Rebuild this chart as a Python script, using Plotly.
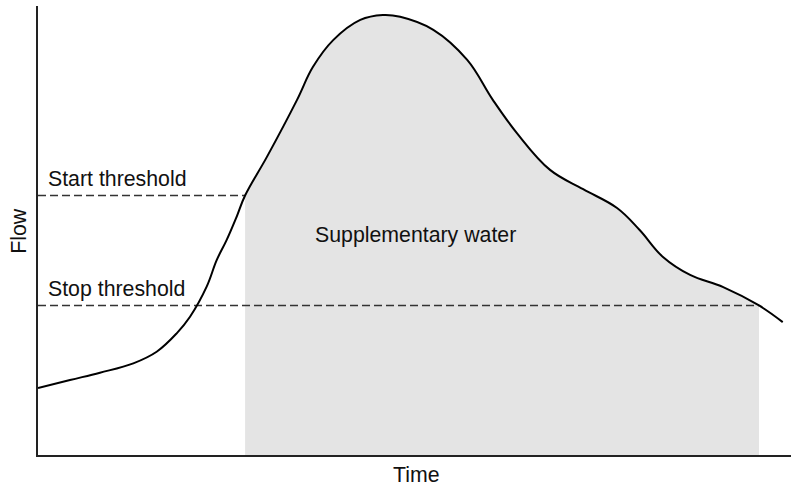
import plotly.graph_objects as go

# Flow curve (arbitrary units: time 0-100, flow 0-100)
time = [0, 4.25, 8.23, 12.66, 15.76, 18.42, 20.19, 22.4, 23.73, 25.06, 26.39, 27.5,
        30.4, 34.4, 36.5, 39.2, 42.8, 45.8, 48.1, 52.5, 57.0, 60.4, 63.6, 68.0, 72.4,
        76.9, 79.9, 83.0, 86.6, 91.0, 95.75, 98.9]
flow = [14.9, 16.7, 18.33, 20.42, 23.0, 27.1, 30.8, 37.5, 43.4, 47.9, 53.1, 57.8,
        66.4, 79.1, 86.4, 92.4, 96.9, 98.0, 97.6, 94.7, 88.0, 79.1, 71.7, 63.5, 59.2,
        55.0, 50.1, 44.1, 40.1, 37.4, 33.3, 29.6]

start_threshold = 57.8
stop_threshold = 33.3
t_start = 27.5   # curve crosses start threshold (rising)
t_stop = 95.75   # curve crosses stop threshold (falling)

labels = ["Start threshold", "Stop threshold", "Supplementary water"]
x_title = "Time"
y_title = "Flow"

font_family = "Liberation Sans, Arial, Helvetica, sans-serif"
fs = 21.3

fill_t = [t for t in time if t_start <= t <= t_stop]
fill_f = [f for t, f in zip(time, flow) if t_start <= t <= t_stop]

fig = go.Figure()
fig.add_trace(go.Scatter(x=fill_t, y=fill_f, mode="lines",
                         line=dict(width=0, shape="spline", smoothing=1.1),
                         fill="tozeroy", fillcolor="#e4e4e4", hoverinfo="skip"))
fig.add_trace(go.Scatter(x=[0, t_start], y=[start_threshold, start_threshold], mode="lines",
                         line=dict(color="#333333", width=1.5, dash="8px,4px")))
fig.add_trace(go.Scatter(x=[0, t_stop], y=[stop_threshold, stop_threshold], mode="lines",
                         line=dict(color="#333333", width=1.5, dash="8px,4px")))
fig.add_trace(go.Scatter(x=time, y=flow, mode="lines",
                         line=dict(color="#000000", width=2, shape="spline", smoothing=1.1)))

tf = dict(family=font_family, size=fs, color="#111111")
fig.add_annotation(x=1.0, y=61.4, text=labels[0], showarrow=False, xanchor="left",
                   yanchor="middle", font=tf)
fig.add_annotation(x=1.0, y=36.9, text=labels[1], showarrow=False, xanchor="left",
                   yanchor="middle", font=tf)
fig.add_annotation(x=50.07, y=49.1, text=labels[2], showarrow=False, xanchor="center",
                   yanchor="middle", font=tf)
fig.add_annotation(x=50.2, y=0, yref="paper", yshift=-19.5, text=x_title, showarrow=False,
                   xanchor="center", yanchor="middle", font=tf)
fig.add_annotation(x=0, xref="paper", xshift=-19.2, y=49.9, text=y_title, showarrow=False,
                   textangle=-90, xanchor="center", yanchor="middle", font=tf)

fig.update_layout(
    width=791, height=491,
    margin=dict(l=38, r=0, t=6, b=36),
    paper_bgcolor="white", plot_bgcolor="white",
    showlegend=False,
    xaxis=dict(range=[0, 100], showgrid=False, zeroline=False, showticklabels=False,
               ticks="", showline=True, linecolor="#222222", linewidth=2, fixedrange=True),
    yaxis=dict(range=[0, 100], showgrid=False, zeroline=False, showticklabels=False,
               ticks="", showline=True, linecolor="#222222", linewidth=2, fixedrange=True),
)
fig.write_html("out.html", config={"displayModeBar": False},
               post_script="document.body.style.margin='0';document.body.style.padding='0';")
